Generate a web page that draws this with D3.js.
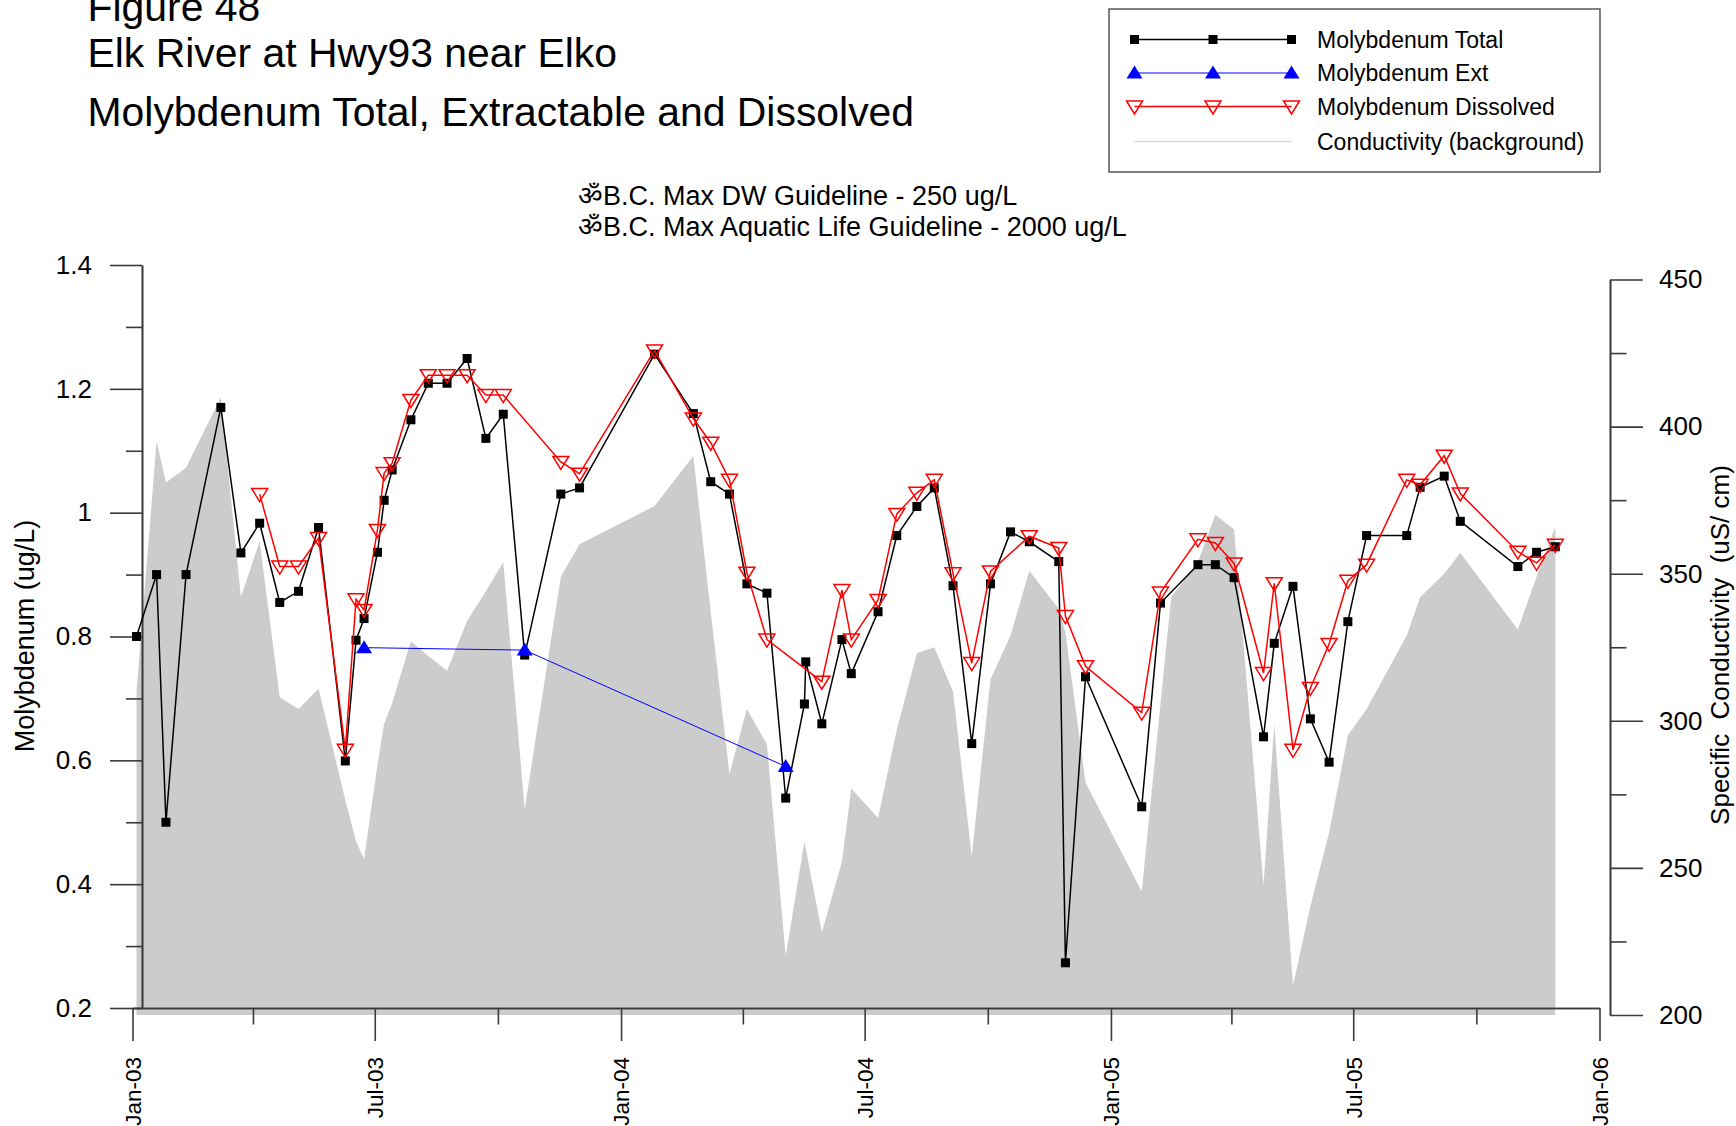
<!DOCTYPE html>
<html><head><meta charset="utf-8">
<script src="https://cdnjs.cloudflare.com/ajax/libs/d3/7.8.5/d3.min.js"></script>
<style>
html,body{margin:0;padding:0;background:#fff;}
svg{display:block;font-family:"Liberation Sans",Arial,Helvetica,sans-serif;}
</style></head><body>
<svg id="chart" width="1736" height="1126"></svg>
<script>
// ---------------- DATA ----------------
const sampleDates = [
 "2003-01-04","2003-01-19","2003-01-26","2003-02-10","2003-03-08","2003-03-23","2003-04-06","2003-04-21",
 "2003-05-05","2003-05-20","2003-06-09","2003-06-17","2003-06-23","2003-07-03","2003-07-08","2003-07-14",
 "2003-07-28","2003-08-10","2003-08-24","2003-09-08","2003-09-22","2003-10-05","2003-10-21","2003-11-17",
 "2003-12-01","2004-01-26","2004-02-24","2004-03-08","2004-03-22","2004-04-04","2004-04-19","2004-05-03",
 "2004-05-17","2004-05-18","2004-05-30","2004-06-14","2004-06-21","2004-07-11","2004-07-25","2004-08-09",
 "2004-08-22","2004-09-05","2004-09-19","2004-10-03","2004-10-18","2004-11-01","2004-11-23","2004-11-28",
 "2004-12-13","2005-01-24","2005-02-07","2005-03-07","2005-03-20","2005-04-03","2005-04-25","2005-05-03",
 "2005-05-17","2005-05-30","2005-06-13","2005-06-27","2005-07-11","2005-08-10","2005-08-20","2005-09-07",
 "2005-09-19","2005-11-01","2005-11-15","2005-11-29"
];
const totalValues = [
 0.80,0.90,0.50,0.90,1.17,0.935,0.983,0.855,
 0.873,0.976,0.599,0.794,0.829,0.936,1.02,1.069,
 1.15,1.209,1.209,1.249,1.12,1.159,0.77,1.03,
 1.04,1.256,1.16,1.05,1.03,0.885,0.87,0.539,
 0.691,0.759,0.659,0.795,0.74,0.84,0.963,1.01,
 1.04,0.882,0.627,0.885,0.969,0.953,0.921,0.273,
 0.735,0.525,0.854,0.916,0.916,0.895,0.638,0.789,
 0.881,0.667,0.597,0.824,0.963,0.963,1.041,1.059,
 0.986,0.913,0.936,0.945
];
const dissolvedValues = [
 null,null,null,null,null,null,1.03,0.913,
 0.913,0.959,0.617,0.86,0.843,0.972,1.064,1.08,
 1.182,1.222,1.222,1.222,1.19,1.19,null,1.082,
 1.063,1.262,1.152,1.113,1.053,0.903,0.795,null,
 null,null,0.727,0.875,0.795,0.859,0.998,1.032,
 1.053,0.902,0.757,0.905,null,0.962,0.943,0.833,
 0.752,0.677,0.871,0.957,0.951,0.918,0.741,0.886,
 0.617,0.717,0.788,0.89,0.916,1.053,1.045,1.092,
 1.031,0.937,0.919,0.948
];
const extDates = ["2003-06-23","2003-10-21","2004-05-03"];
const extValues = [0.782,0.778,0.59];

const condDates = [
 "2003-01-04","2003-01-19","2003-01-26","2003-02-10","2003-03-08","2003-03-23","2003-04-06","2003-04-21",
 "2003-05-05","2003-05-20","2003-06-09","2003-06-17","2003-06-23","2003-07-03","2003-07-08","2003-07-14",
 "2003-07-28","2003-08-10","2003-08-24","2003-09-08","2003-09-22","2003-10-05","2003-10-21","2003-11-17",
 "2003-12-01","2004-01-26","2004-02-24","2004-03-08","2004-03-22","2004-04-04","2004-04-19","2004-05-03",
 "2004-05-17","2004-05-30","2004-06-14","2004-06-21","2004-07-11","2004-07-25","2004-08-09","2004-08-22",
 "2004-09-05","2004-09-19","2004-10-03","2004-10-18","2004-11-01","2004-11-23","2004-11-28","2004-12-13",
 "2005-01-24","2005-02-15","2005-03-07","2005-03-20","2005-04-03","2005-04-25","2005-05-03","2005-05-17",
 "2005-05-30","2005-06-13","2005-06-27","2005-07-11","2005-08-10","2005-08-20","2005-09-07","2005-09-19",
 "2005-11-01","2005-11-15","2005-11-29"
];
const condValues = [
 310,395,381,386,410,342,361,308,
 304,311,273,259,253,285,299,306,
 327,322,317,334,344,354,270,349,
 360,373,390,337,282,304,292,220,
 259,228,252,277,267,297,323,325,
 310,254,314,329,351,338,330,279,
 242,342,354,370,365,244,299,210,
 237,262,295,304,329,342,350,357,
 331,349,366
];

const leftMajorTicks = [0.2,0.4,0.6,0.8,1.0,1.2,1.4];
const leftMinorTicks = [0.3,0.5,0.7,0.9,1.1,1.3];
const rightMajorTicks = [200,250,300,350,400,450];
const rightMinorTicks = [225,275,325,375,425];
const xMajorTicks = ["2003-01-01","2003-07-01","2004-01-01","2004-07-01","2005-01-01","2005-07-01","2006-01-01"];
const xMinorTicks = ["2003-04-01","2003-10-01","2004-04-01","2004-10-01","2005-04-01","2005-10-01"];

const titleLines = ["Figure 48","Elk River at Hwy93 near Elko","Molybdenum Total, Extractable and Dissolved"];
const guidelineLines = ["\u0950B.C. Max DW Guideline - 250 ug/L","\u0950B.C. Max Aquatic Life Guideline - 2000 ug/L"];
const legendLabels = ["Molybdenum Total","Molybdenum Ext","Molybdenum Dissolved","Conductivity (background)"];

// ---------------- CHART ----------------
const parse = d3.utcParse("%Y-%m-%d");
const svg = d3.select("#chart");

const x = d3.scaleUtc().domain([parse("2003-01-01"), parse("2006-01-01")]).range([132.5, 1599.5]);
const yL = d3.scaleLinear().domain([0.2, 1.4]).range([1008, 265]);
const yR = d3.scaleLinear().domain([200, 450]).range([1015, 279.5]);

const AXIS = "#3a3a3a";

// conductivity background area
const cond = condDates.map((d,i)=>({date:parse(d), v:condValues[i]}));
svg.append("path")
  .datum(cond)
  .attr("fill","#cccccc")
  .attr("d", d3.area().x(d=>x(d.date)).y0(yR(200)).y1(d=>yR(d.v)));

// axes
function styleAxis(g){
  g.selectAll("path.domain").attr("stroke",AXIS).attr("stroke-width",1.6);
  g.selectAll(".tick line").attr("stroke",AXIS).attr("stroke-width",1.6);
}
const leftX = 142;
const gL = svg.append("g").attr("transform",`translate(${leftX},0)`)
  .call(d3.axisLeft(yL).tickValues(leftMajorTicks).tickSize(32).tickSizeOuter(0).tickPadding(18)
        .tickFormat(d=> d===1 ? "1" : d3.format(".1f")(d)));
gL.selectAll("text").attr("font-size",26).attr("fill","#000").attr("font-family","Liberation Sans, Arial, sans-serif");
styleAxis(gL);
const gLm = svg.append("g").attr("transform",`translate(${leftX},0)`)
  .call(d3.axisLeft(yL).tickValues(leftMinorTicks).tickSize(16).tickSizeOuter(0).tickFormat(""));
styleAxis(gLm);

const gR = svg.append("g").attr("transform","translate(1610,0)")
  .call(d3.axisRight(yR).tickValues(rightMajorTicks).tickSize(33).tickSizeOuter(0).tickPadding(16));
gR.selectAll("text").attr("font-size",26).attr("fill","#000").attr("font-family","Liberation Sans, Arial, sans-serif");
styleAxis(gR);
const gRm = svg.append("g").attr("transform","translate(1610,0)")
  .call(d3.axisRight(yR).tickValues(rightMinorTicks).tickSize(16.5).tickSizeOuter(0).tickFormat(""));
styleAxis(gRm);

const gB = svg.append("g").attr("transform",`translate(0,${yL(0.2)})`)
  .call(d3.axisBottom(x).tickValues(xMajorTicks.map(parse)).tickSize(33).tickSizeOuter(0)
        .tickFormat(d3.utcFormat("%b-%y")));
gB.selectAll("text")
  .attr("font-size",22.5).attr("fill","#000").attr("font-family","Liberation Sans, Arial, sans-serif")
  .attr("transform","rotate(-90)").attr("text-anchor","end")
  .attr("x",-49).attr("y",0).attr("dy","0.35em");
styleAxis(gB);
const gBm = svg.append("g").attr("transform",`translate(0,${yL(0.2)})`)
  .call(d3.axisBottom(x).tickValues(xMinorTicks.map(parse)).tickSize(16.5).tickSizeOuter(0).tickFormat(""));
styleAxis(gBm);

// series
const total = sampleDates.map((d,i)=>({date:parse(d), v:totalValues[i]}));
const diss = sampleDates.map((d,i)=>({date:parse(d), v:dissolvedValues[i]})).filter(d=>d.v!==null);
const ext = extDates.map((d,i)=>({date:parse(d), v:extValues[i]}));
const line = d3.line().x(d=>x(d.date)).y(d=>yL(d.v));

const sq = 9;
const downTri = (cx,cy)=>`M${cx-8},${cy-5.5}L${cx+8},${cy-5.5}L${cx},${cy+7.5}Z`;
const upTri = (cx,cy)=>`M${cx-8},${cy+5.5}L${cx+8},${cy+5.5}L${cx},${cy-7.5}Z`;

svg.append("path").datum(total).attr("fill","none").attr("stroke","#000").attr("stroke-width",1.5).attr("d",line);
svg.append("g").selectAll("rect").data(total).join("rect")
  .attr("x",d=>x(d.date)-sq/2).attr("y",d=>yL(d.v)-sq/2).attr("width",sq).attr("height",sq).attr("fill","#000");

svg.append("path").datum(diss).attr("fill","none").attr("stroke","#ff0000").attr("stroke-width",1.5).attr("d",line);
svg.append("g").selectAll("path").data(diss).join("path")
  .attr("d",d=>downTri(x(d.date),yL(d.v))).attr("fill","none").attr("stroke","#ff0000").attr("stroke-width",1.5);

svg.append("path").datum(ext).attr("fill","none").attr("stroke","#0000ff").attr("stroke-width",1).attr("d",line);
svg.append("g").selectAll("path").data(ext).join("path")
  .attr("d",d=>upTri(x(d.date),yL(d.v))).attr("fill","#0000ff");

// titles
const tY = [21,67,126];
svg.append("g").selectAll("text").data(titleLines).join("text")
  .attr("x",87.5).attr("y",(d,i)=>tY[i]).attr("font-size",40.9).attr("fill","#000").text(d=>d);

const gY = [205,236];
svg.append("g").selectAll("text").data(guidelineLines).join("text")
  .attr("x",578).attr("y",(d,i)=>gY[i]).attr("font-size",27).attr("fill","#000").text(d=>d);

// axis titles
svg.append("text").attr("transform","translate(34,636) rotate(-90)").attr("text-anchor","middle")
  .attr("font-size",27).attr("fill","#000").text("Molybdenum (ug/L)");
svg.append("text").attr("transform","translate(1729,645) rotate(-90)").attr("text-anchor","middle")
  .attr("font-size",26).attr("fill","#000").style("white-space","pre").text("Specific  Conductivity  (uS/ cm)");

// legend
const lg = svg.append("g");
lg.append("rect").attr("x",1109).attr("y",9).attr("width",491).attr("height",163)
  .attr("fill","#fff").attr("stroke","#555").attr("stroke-width",1.5);
const rowY = [39.5,73,106.5,141.5];
const mx = [1134.5,1213,1291.5];
lg.append("line").attr("x1",mx[0]).attr("x2",mx[2]).attr("y1",rowY[0]).attr("y2",rowY[0]).attr("stroke","#000").attr("stroke-width",1.5);
mx.forEach(m=>lg.append("rect").attr("x",m-sq/2).attr("y",rowY[0]-sq/2).attr("width",sq).attr("height",sq).attr("fill","#000"));
lg.append("line").attr("x1",mx[0]).attr("x2",mx[2]).attr("y1",rowY[1]).attr("y2",rowY[1]).attr("stroke","#0000ff").attr("stroke-width",1);
mx.forEach(m=>lg.append("path").attr("d",upTri(m,rowY[1])).attr("fill","#0000ff"));
lg.append("line").attr("x1",mx[0]).attr("x2",mx[2]).attr("y1",rowY[2]).attr("y2",rowY[2]).attr("stroke","#ff0000").attr("stroke-width",1.5);
mx.forEach(m=>lg.append("path").attr("d",downTri(m,rowY[2])).attr("fill","none").attr("stroke","#ff0000").attr("stroke-width",1.5));
lg.append("line").attr("x1",mx[0]).attr("x2",mx[2]).attr("y1",rowY[3]).attr("y2",rowY[3]).attr("stroke","#d9d9d9").attr("stroke-width",1.5);
lg.selectAll("text.lbl").data(legendLabels).join("text").attr("class","lbl")
  .attr("x",1317).attr("y",(d,i)=>rowY[i]).attr("dy","0.35em").attr("font-size",23).attr("fill","#000").text(d=>d);
</script>
</body></html>
